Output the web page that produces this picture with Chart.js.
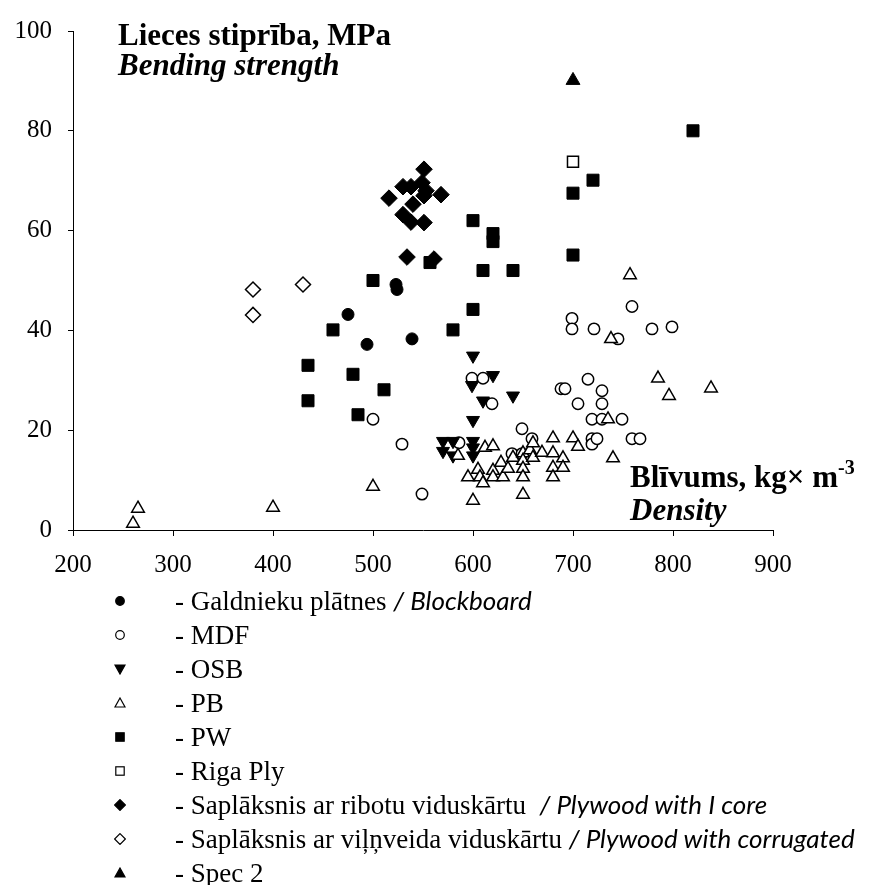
<!DOCTYPE html>
<html>
<head>
<meta charset="utf-8">
<script src="https://cdn.jsdelivr.net/npm/chart.js@4"></script>
<style>
body { margin: 0; background: #fff; }
#wrap { position: relative; width: 880px; height: 885px; overflow: hidden; }
#c { position: absolute; left: 0; top: 0; }
.lbl { position: absolute; font-family: 'Liberation Serif'; font-weight: bold; font-size: 31px; line-height: 31px; white-space: nowrap; color: #000; }
.it { font-style: italic; }
.sup { position: relative; top: -13px; font-size: 20px; }
.row { position: absolute; left: 0; width: 880px; height: 27px; font-family: 'Liberation Serif'; font-size: 27px; line-height: 27px; white-space: pre; color: #000; }
.row svg { position: absolute; left: 114px; top: 8px; }
.row .txt { position: absolute; left: 175px; top: 0; }
.en { font-family: Lato; font-style: italic; font-size: 26px; }
</style>
</head>
<body>
<div id="wrap">
  <canvas id="c" width="880" height="590"></canvas>
  <div class="lbl" style="left:118px; top:19px">Lieces stiprība, MPa</div>
  <div class="lbl it" style="left:118px; top:49px">Bending strength</div>
  <div class="lbl" style="left:630px; top:461px">Blīvums, kg× m<span class="sup">-3</span></div>
  <div class="lbl it" style="left:630px; top:494px">Density</div>
  <div id="legend"></div>
</div>
<script>
// Sērijas - blīvums (x) un lieces stiprība (y)
const galdX = [475, 494, 523, 524, 539];
const galdY = [43.2, 37.2, 49.2, 48.2, 38.3];

const mdfX = [500, 529, 549, 586, 599, 610, 619, 639, 649, 649, 659, 688, 692, 699, 699, 705, 715, 719, 719, 719, 721, 724, 729, 729, 729, 745, 749, 759, 759, 767, 779, 799];
const mdfY = [22.2, 17.2, 7.2, 17.5, 30.4, 30.4, 25.3, 15.3, 15.3, 20.3, 18.3, 28.3, 28.3, 42.4, 40.3, 25.3, 30.2, 22.2, 18.3, 17.2, 40.3, 18.3, 27.9, 25.3, 22.2, 38.3, 22.2, 44.8, 18.3, 18.3, 40.3, 40.7];

const osbX = [570, 580, 570, 580, 600, 600, 600, 600, 599, 600, 610, 620, 640];
const osbY = [17.8, 17.8, 15.8, 14.9, 17.8, 16.5, 14.9, 22.0, 29.0, 34.9, 25.9, 31.0, 26.9];

const pbX = [260, 265, 400, 500, 585, 595, 600, 605, 607, 610, 612, 620, 620, 620, 628, 630, 635, 640, 650, 650, 650, 650, 650, 657, 660, 660, 669, 680, 680, 680, 680, 690, 690, 700, 705, 735, 738, 740, 757, 785, 796, 838];
const pbY = [1.3, 4.3, 4.5, 8.7, 14.9, 10.6, 5.9, 12.1, 10.6, 9.4, 16.5, 16.8, 11.9, 10.6, 13.5, 10.6, 12.3, 14.5, 15.4, 13.9, 12.3, 10.6, 7.1, 16.0, 17.4, 14.5, 15.5, 18.4, 15.4, 12.5, 10.6, 14.4, 12.5, 18.4, 16.7, 22.2, 38.3, 14.4, 51.1, 30.4, 26.9, 28.4];

const pwX = [435, 435, 460, 480, 485, 500, 511, 557, 580, 600, 600, 610, 620, 620, 640, 700, 700, 720, 820];
const pwY = [33.0, 25.9, 40.1, 31.2, 23.1, 50.0, 28.1, 53.6, 40.1, 44.2, 62.0, 52.0, 59.4, 57.8, 52.0, 55.1, 67.5, 70.1, 80.0];

const rigaX = [700];
const rigaY = [73.8];

const ribX = [516, 530, 530, 534, 538, 538, 540, 549, 551, 551, 551, 553, 561, 568];
const ribY = [66.5, 68.8, 63.2, 54.7, 68.8, 61.7, 65.3, 69.6, 67.0, 72.3, 61.6, 68.0, 54.3, 67.2];

const vilnX = [380, 380, 430];
const vilnY = [48.2, 43.1, 49.2];

const specX = [700];
const specY = [90.1];

const xTicks = [200, 300, 400, 500, 600, 700, 800, 900];
const yTicks = [0, 20, 40, 60, 80, 100];

const names = ['- Galdnieku plātnes ', '- MDF', '- OSB', '- PB', '- PW', '- Riga Ply',
  '- Saplāksnis ar ribotu viduskārtu  ', '- Saplāksnis ar viļņveida viduskārtu ', '- Spec 2'];
const namesEn = ['/ Blockboard', '', '', '', '', '', '/ Plywood with I core', '/ Plywood with corrugated', ''];

const pts = (xs, ys) => xs.map((x, i) => ({ x: x, y: ys[i] }));

function series(label, xs, ys, style, r, filled, rot, order) {
    return {
        label: label,
        data: pts(xs, ys),
        pointStyle: style,
        pointRadius: r,
        pointRotation: rot || 0,
        backgroundColor: filled ? '#000' : '#fff',
        borderColor: '#000',
        borderWidth: filled ? 1 : 1.5,
        showLine: false,
        order: order
    };
}

const datasets = [
    series(names[0], galdX, galdY, 'circle', 6, true, 0, 9),
    series(names[1], mdfX, mdfY, 'circle', 5.7, false, 0, 8),
    series(names[2], osbX, osbY, 'triangle', 7.5, true, 180, 7),
    series(names[3], pbX, pbY, 'triangle', 7.3, false, 0, 6),
    series(names[4], pwX, pwY, 'rect', 8.5, true, 0, 5),
    series(names[5], rigaX, rigaY, 'rect', 7.8, false, 0, 4),
    series(names[6], ribX, ribY, 'rectRot', 8.3, true, 0, 3),
    series(names[7], vilnX, vilnY, 'rectRot', 7.5, false, 0, 2),
    series(names[8], specX, specY, 'triangle', 8, true, 0, 1)
];

const tickFont = { family: 'Liberation Serif', size: 25 };

new Chart(document.getElementById('c'), {
    type: 'scatter',
    data: { datasets: datasets },
    options: {
        responsive: false,
        animation: false,
        layout: { padding: { left: 0, top: 25, right: 107, bottom: 0 } },
        plugins: { legend: { display: false }, tooltip: { enabled: false } },
        scales: {
            x: {
                type: 'linear', min: xTicks[0], max: xTicks[xTicks.length - 1],
                afterBuildTicks: s => { s.ticks = xTicks.map(v => ({ value: v })); },
                afterFit: s => { s.height = 60; },
                ticks: { color: '#000', font: tickFont, padding: 14, maxRotation: 0 },
                grid: { drawOnChartArea: false, drawTicks: true, tickLength: 6, color: '#000' },
                border: { display: true, color: '#000', width: 1 }
            },
            y: {
                min: yTicks[0], max: yTicks[yTicks.length - 1],
                afterBuildTicks: s => { s.ticks = yTicks.map(v => ({ value: v })); },
                afterFit: s => { s.width = 73; },
                ticks: { color: '#000', font: tickFont, padding: 16 },
                grid: { drawOnChartArea: false, drawTicks: true, tickLength: 5, color: '#000' },
                border: { display: true, color: '#000', width: 1 }
            }
        }
    }
});

// Leģenda zem grafika
function marker(ds) {
    const f = ds.backgroundColor === '#000' ? '#000' : '#fff';
    let s = '';
    if (ds.pointStyle === 'circle') s = `<circle cx="6" cy="6" r="4.3" fill="${f}" stroke="#000" stroke-width="1.2"/>`;
    else if (ds.pointStyle === 'rect') s = `<rect x="1.8" y="1.8" width="8.4" height="8.4" fill="${f}" stroke="#000" stroke-width="1.2"/>`;
    else if (ds.pointStyle === 'rectRot') s = `<polygon points="6,0.6 11.4,6 6,11.4 0.6,6" fill="${f}" stroke="#000" stroke-width="1.2"/>`;
    else if (ds.pointRotation === 180) s = `<polygon points="1,2 11,2 6,11" fill="${f}" stroke="#000" stroke-width="1.2"/>`;
    else s = `<polygon points="6,1 11,10 1,10" fill="${f}" stroke="#000" stroke-width="1.2"/>`;
    return `<svg width="12" height="12" viewBox="0 0 12 12">${s}</svg>`;
}

const legend = document.getElementById('legend');
datasets.forEach((ds, i) => {
    const row = document.createElement('div');
    row.className = 'row';
    row.style.top = (587 + i * 34) + 'px';
    row.innerHTML = marker(ds) + `<span class="txt">${names[i]}<span class="en">${namesEn[i]}</span></span>`;
    legend.appendChild(row);
});
</script>
</body>
</html>
